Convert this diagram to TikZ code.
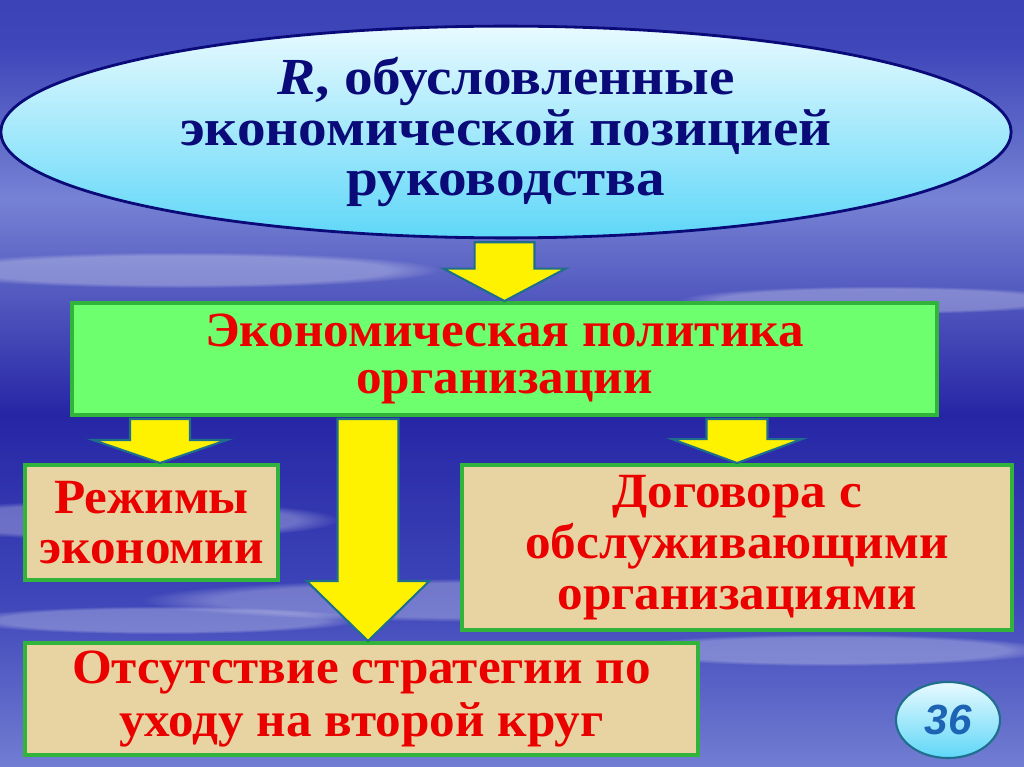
\documentclass[tikz,border=0pt]{standalone}
\usepackage{fontspec}
\setmainfont{Liberation Serif}
\setsansfont{Liberation Sans}
\newfontfamily\wideserif[FakeStretch=1.1]{Liberation Serif}
\newfontfamily\redserif[FakeStretch=1.04]{Liberation Serif}
\usepackage{tikz}
\usetikzlibrary{calc, shapes.geometric, positioning, fadings}

\definecolor{navytext}{RGB}{10,10,120}
\definecolor{redtext}{RGB}{235,0,0}
\definecolor{boxgreen}{RGB}{110,255,110}
\definecolor{edgegreen}{RGB}{50,180,60}
\definecolor{parchment}{RGB}{232,212,162}
\definecolor{arrowedge}{RGB}{30,110,140}
\definecolor{badgeblue}{RGB}{30,100,180}
\definecolor{skydark}{RGB}{38,38,165}
\definecolor{skymid}{RGB}{62,70,185}
\definecolor{skylight}{RGB}{118,130,212}
\definecolor{iceblue}{RGB}{232,250,255}
\definecolor{cyanblue}{RGB}{95,215,248}

\pgfdeclareverticalshading{sky}{100bp}{color(0bp)=(skydark); color(10bp)=(skymid);
  color(24bp)=(skylight); color(36bp)=(skymid); color(48bp)=(skydark);
  color(62bp)=(skylight); color(72bp)=(skymid); color(100bp)=(skydark)}

% блочная стрелка: начало, остриё, полуширина ствола, полуширина головы, длина головы
\newcommand{\yarrow}[5]{%
  \draw[blockarrow] let \p1=(#1), \p2=(#2) in
    (\x2-#3,\y1) -- (\x2+#3,\y1) -- (\x2+#3,\y2+#5) -- (\x2+#4,\y2+#5)
    -- (\x2,\y2) -- (\x2-#4,\y2+#5) -- (\x2-#3,\y2+#5) -- cycle;}

\begin{document}
\begin{tikzpicture}[x=0.025cm, y=-0.025cm,
    redlabel/.style={font=\redserif\bfseries\fontsize{35}{36}\selectfont, text=redtext, align=center},
    parchbox/.style={draw=edgegreen, line width=2.8pt, fill=parchment, inner sep=0pt, redlabel},
    blockarrow/.style={fill=yellow, draw=arrowedge, line width=1.5pt, line join=miter},
    cloud/.style={fill=white, opacity=0.28, path fading=circle with fuzzy edge 20 percent}]

  % Фон
  \useasboundingbox (0,0) rectangle (1024,767);
  \shade[shading=sky] (0,0) rectangle (1024,767);
  \begin{scope}
    \clip (0,0) rectangle (1024,767);
    \fill[cloud] (180,270) ellipse (260 and 18);
    \fill[cloud] (880,300) ellipse (200 and 14);
    \fill[cloud] (120,520) ellipse (220 and 20);
    \fill[cloud] (520,600) ellipse (380 and 22);
    \fill[cloud] (830,650) ellipse (220 and 16);
    \fill[cloud] (160,620) ellipse (200 and 14);
  \end{scope}

  % Эллипс
  \node (pos) [ellipse, draw=navytext, line width=2pt, top color=iceblue, bottom color=cyanblue,
    minimum width=25.25cm, minimum height=5.1cm, inner sep=0pt, text=navytext, align=center,
    font=\wideserif\bfseries\fontsize{37}{36}\selectfont] at (506,132)
    {\textit{R}, обусловленные\\экономической позицией\\руководства};

  % Блоки
  \node (pol) [draw=edgegreen, line width=2.8pt, fill=boxgreen, minimum width=21.625cm,
    minimum height=2.8cm, inner sep=0pt, redlabel, font=\redserif\bfseries\fontsize{35}{33.5}\selectfont]
    at (504.5,359) {Экономическая политика\\организации};
  \node (rez) [parchbox, minimum width=6.325cm, minimum height=2.875cm] at (151.5,522.5)
    {Режимы\\экономии};
  \node (dog) [parchbox, minimum width=13.75cm, minimum height=4.125cm] at (737,547.5)
    {Договора с\\обслуживающими\\организациями};
  \node (ots) [parchbox, minimum width=16.825cm, minimum height=2.8cm,
    font=\redserif\bfseries\fontsize{35}{37.5}\selectfont] at (361.5,699)
    {Отсутствие стратегии по\\уходу на второй круг};

  % Стрелки
  \yarrow{$(pos.south)+(0,3)$}{pol.north}{21.3pt}{43.4pt}{23pt}
  \yarrow{$(pol.south)+(0,2)$}{$(rez.north)+(8.5,0)$}{21.3pt}{47.7pt}{16.4pt}
  \yarrow{$(pol.south)+(0,2)$}{$(ots.north)+(6.5,0)$}{21.7pt}{43.7pt}{42.7pt}
  \yarrow{$(pol.south)+(0,2)$}{dog.north}{21.7pt}{46.2pt}{17pt}

  % Номер
  \node (num) [ellipse, draw=arrowedge, line width=1.5pt, top color=iceblue, bottom color=cyanblue,
    minimum width=2.6cm, minimum height=1.9cm, inner sep=0pt, text=badgeblue,
    font=\sffamily\bfseries\itshape\fontsize{30}{30}\selectfont] at (948,720) {36};
\end{tikzpicture}
\end{document}
